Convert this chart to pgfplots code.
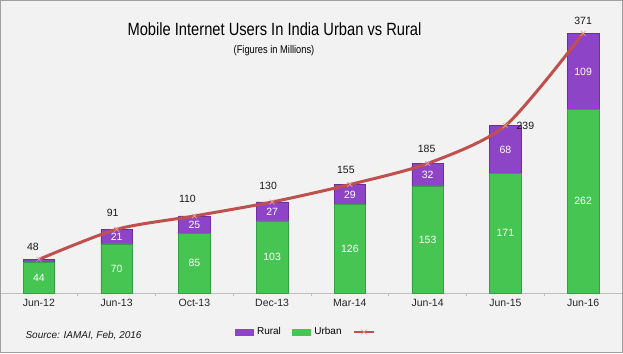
\documentclass[border=0pt]{standalone}
\usepackage{pgfplots}
\pgfplotsset{compat=1.18}
\usepackage{fontspec}
\setmainfont{Liberation Sans}
\newfontfamily\narrowfont[FakeStretch=0.83]{Liberation Sans}
\definecolor{bg}{HTML}{F2F2F2}
\definecolor{frame}{HTML}{A0A0A0}
\definecolor{urb}{HTML}{46C553}
\definecolor{urbd}{HTML}{34A044}
\definecolor{rur}{HTML}{8E44C6}
\definecolor{rurd}{HTML}{6C2FA0}
\definecolor{lin}{HTML}{C0504D}
\definecolor{axgray}{HTML}{BFBFBF}
\begin{document}
\begin{tikzpicture}
\fill[bg] (0,0) rectangle (623pt,353pt);
\begin{axis}[
  at={(0pt,60pt)}, anchor=south west,
  scale only axis, width=622pt, height=280pt,
  xmin=-0.5, xmax=7.5, ymin=0, ymax=400,
  clip=false,
  axis x line=bottom, axis y line=none,
  axis line style={axgray, line width=0.9pt, -},
  x axis line style={-},
  xtick={0,...,7},
  xticklabels={Jun-12,Jun-13,Oct-13,Dec-13,Mar-14,Jun-14,Jun-15,Jun-16},
  major tick length=0pt,
  minor xtick={0.5,1.5,...,6.5},
  minor tick length=3pt,
  tick align=outside,
  minor tick style={axgray, line width=0.8pt},
  xticklabel style={font=\fontsize{10.5}{12}\selectfont, text=black!85, yshift=-3pt},
  ybar stacked, bar width=31.5pt,
  legend columns=3,
  legend style={at={(308pt,-39pt)}, anchor=center, draw=none, fill=none,
    font=\fontsize{10}{12}\selectfont, column sep=2pt,
    /tikz/every even column/.append style={column sep=9pt}},
  legend cell align=left,
]
\addlegendimage{legend image code/.code={\fill[rur] (0pt,-3pt) rectangle (18pt,3pt);}}
\addlegendentry{Rural}
\addlegendimage{legend image code/.code={\fill[urb] (0pt,-3pt) rectangle (18pt,3pt);}}
\addlegendentry{Urban}
\addlegendimage{legend image code/.code={\draw[lin, line width=2.8pt] (0pt,0pt) -- (20pt,0pt); \draw[lin!60!white, line width=0.6pt] (7pt,-2.5pt) -- (13pt,2.5pt) (7pt,2.5pt) -- (13pt,-2.5pt);}}
\addlegendentry{}
\addplot+[forget plot, fill=urb, draw=urbd, line width=0.6pt] coordinates {(0,44) (1,70) (2,85) (3,103) (4,126) (5,153) (6,171) (7,262)};
\addplot+[forget plot, fill=rur, draw=rurd, line width=0.6pt] coordinates {(0,4) (1,21) (2,25) (3,27) (4,29) (5,32) (6,68) (7,109)};
\end{axis}
\begin{axis}[
  at={(0pt,60pt)}, anchor=south west,
  scale only axis, width=622pt, height=280pt,
  xmin=-0.5, xmax=7.5, ymin=0, ymax=400,
  clip=false, hide axis,
]
\addplot[lin, line width=3pt, smooth, tension=0.45, mark=x, mark size=3.5pt,
  mark options={lin!55!white, line width=0.6pt}]
  coordinates {(0,48) (1,91) (2,110) (3,130) (4,155) (5,185) (6,239) (7,371)};
% labels inside bars
\begin{scope}[every node/.style={font=\fontsize{10.5}{12}\selectfont, text=white}]
\node at (axis cs:0,22) {44};
\node at (axis cs:1,35) {70};
\node at (axis cs:2,42.5) {85};
\node at (axis cs:3,51.5) {103};
\node at (axis cs:4,63) {126};
\node at (axis cs:5,76.5) {153};
\node at (axis cs:6,85.5) {171};
\node at (axis cs:7,131) {262};
\node at (axis cs:1,80.5) {21};
\node at (axis cs:2,97.5) {25};
\node at (axis cs:3,116.5) {27};
\node at (axis cs:4,140.5) {29};
\node at (axis cs:5,169) {32};
\node at (axis cs:6,205) {68};
\node at (axis cs:7,316.5) {109};
\end{scope}
% totals
\begin{scope}[every node/.style={font=\fontsize{10.5}{12}\selectfont, text=black!90}]
\node[xshift=-6pt, yshift=13pt] at (axis cs:0,48) {48};
\node[xshift=-4pt, yshift=16pt] at (axis cs:1,91) {91};
\node[xshift=-7pt, yshift=17pt] at (axis cs:2,110) {110};
\node[xshift=-4pt, yshift=16pt] at (axis cs:3,130) {130};
\node[xshift=-4pt, yshift=14.5pt] at (axis cs:4,155) {155};
\node[xshift=-1pt, yshift=14.5pt] at (axis cs:5,185) {185};
\node[xshift=20pt, yshift=0pt] at (axis cs:6,239) {239};
\node[xshift=0pt, yshift=12pt] at (axis cs:7,371) {371};
\end{scope}
\end{axis}
\node[anchor=base, font=\narrowfont\fontsize{17.7}{20}\selectfont] at (274.5pt,317pt) {Mobile Internet Users In India Urban vs Rural};
\node[anchor=base, font=\narrowfont\fontsize{11.2}{13}\selectfont] at (274pt,299.5pt) {(Figures in Millions)};
\node[anchor=west, font=\itshape\fontsize{10}{12}\selectfont, text=black!90] at (22pt,17pt) {Source: IAMAI, Feb, 2016};
\draw[frame, line width=1.2pt] (0.6pt,0.6pt) rectangle (622.4pt,352.4pt);
\pgfresetboundingbox
\path (0,0) rectangle (623pt,353pt);
\end{tikzpicture}
\end{document}
